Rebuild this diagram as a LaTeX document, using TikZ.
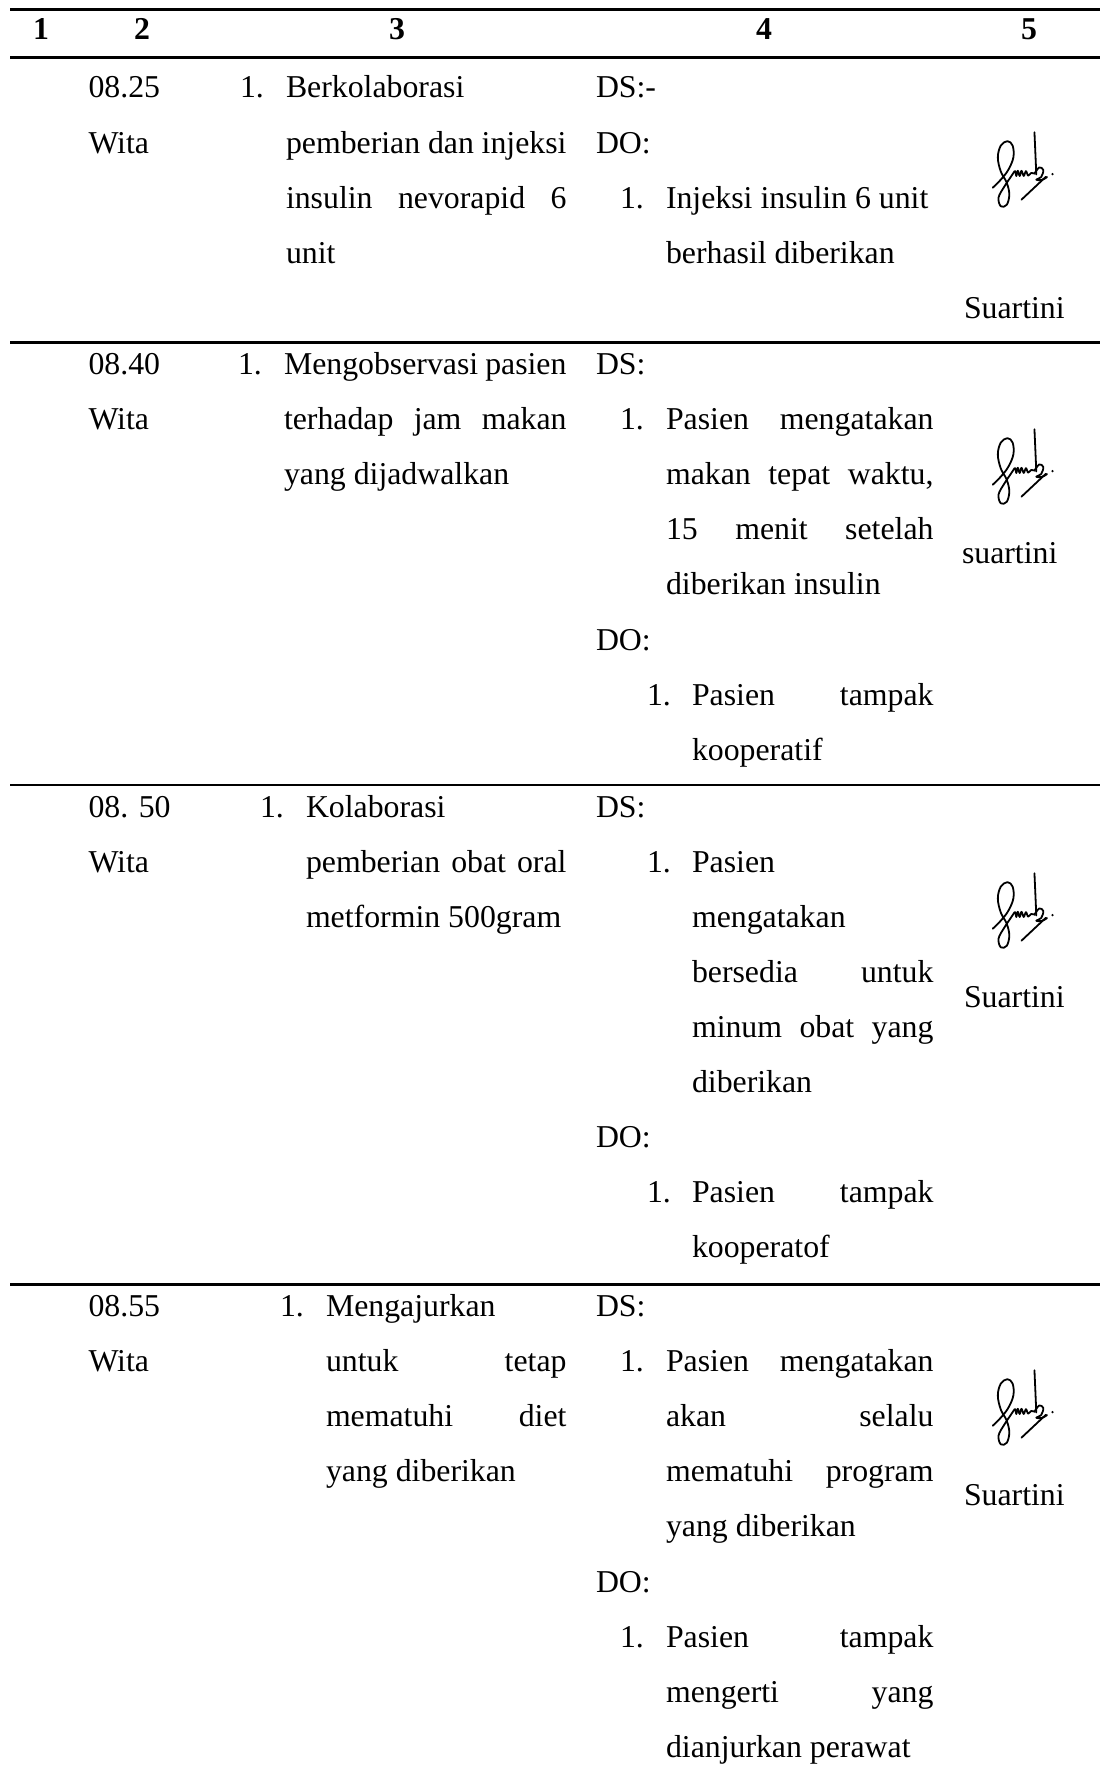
\documentclass[tikz,border=0pt]{standalone}
\usepackage{fontspec}
\setmainfont{Liberation Serif}
\newcommand\jst[2]{\makebox[#1][s]{#2}}
\begin{document}
\begin{tikzpicture}[x=1pt,y=-1pt,
  txt/.style={anchor=base west,inner sep=0pt,outer sep=0pt,font=\fontsize{31.8}{38}\selectfont},
  hdr/.style={anchor=base,inner sep=0pt,outer sep=0pt,font=\fontsize{31.8}{38}\selectfont\bfseries},
  tablerule/.style={line width=2.4pt},
  sigline/.style={line width=1.8pt,line cap=round,line join=round},
  sigmark/.pic={
    \begin{scope}[scale=0.37]
      \draw[sigline] plot[smooth,tension=0.6] coordinates {(72,140) (94,118) (114,92) (128,58) (126,26) (112,14) (94,26) (86,58) (94,96) (110,126) (117,158) (110,186) (94,190) (88,166) (104,136) (120,112) (128,100) (133,95) (136,108) (140,94) (145,108) (150,94) (156,108) (162,95) (168,107) (176,100) (186,102)};
      \draw[sigline] (185,-10) -- (190,104);
      \draw[sigline] plot[smooth,tension=0.6] coordinates {(186,100) (198,85) (209,92) (203,111) (190,118) (205,119) (219,111)};
      \draw[sigline] (150,172) -- (216,110);
      \fill (234,103) circle (3.4);
    \end{scope}
  }]
\useasboundingbox (0,0) rectangle (1100,1776);
\fill[white] (0,0) rectangle (1100,1776);

% table rules
\draw[tablerule] (10,9.5) -- (1100,9.5);
\draw[tablerule] (10,57.5) -- (1100,57.5);
\draw[tablerule] (10,342.5) -- (1100,342.5);
\draw[tablerule] (10,785) -- (1100,785);
\draw[tablerule] (10,1284.5) -- (1100,1284.5);

% header
\node[hdr] (h1) at (41,40) {1};
\node[hdr] (h2) at (142,40) {2};
\node[hdr] (h3) at (397,40) {3};
\node[hdr] (h4) at (764,40) {4};
\node[hdr] (h5) at (1029,40) {5};

% ---------- row 1 ----------
\node[txt] (a2a) at (88.5,98) {08.25};
\node[txt] (a2b) at (88.5,153.1) {Wita};
\node[txt] (a3n) at (240,98) {1.};
\node[txt] (a3a) at (286,98) {Berkolaborasi};
\node[txt] (a3b) at (286,153.1) {\jst{280.5pt}{pemberian dan injeksi}};
\node[txt] (a3c) at (286,208.2) {\jst{280.5pt}{insulin nevorapid 6}};
\node[txt] (a3d) at (286,263.3) {unit};
\node[txt] (a4a) at (596,98) {DS:-};
\node[txt] (a4b) at (596,153.1) {DO:};
\node[txt] (a4n) at (620,208.2) {1.};
\node[txt] (a4c) at (666,208.2) {Injeksi insulin 6 unit};
\node[txt] (a4d) at (666,263.3) {berhasil diberikan};
\pic (asig) at (966,136) {sigmark};
\node[txt] (a5) at (964,318.4) {Suartini};

% ---------- row 2 ----------
\node[txt] (b2a) at (88.5,374.5) {08.40};
\node[txt] (b2b) at (88.5,429.6) {Wita};
\node[txt] (b3n) at (238,374.5) {1.};
\node[txt] (b3a) at (284,374.5) {\jst{282.5pt}{Mengobservasi pasien}};
\node[txt] (b3b) at (284,429.6) {\jst{282.5pt}{terhadap jam makan}};
\node[txt] (b3c) at (284,484.7) {yang dijadwalkan};
\node[txt] (b4a) at (596,374.5) {DS:};
\node[txt] (b4n) at (620,429.6) {1.};
\node[txt] (b4b) at (666,429.6) {\jst{267.5pt}{Pasien mengatakan}};
\node[txt] (b4c) at (666,484.7) {\jst{267.5pt}{makan tepat waktu,}};
\node[txt] (b4d) at (666,539.8) {\jst{267.5pt}{15 menit setelah}};
\node[txt] (b4e) at (666,594.9) {diberikan insulin};
\node[txt] (b4f) at (596,650.0) {DO:};
\node[txt] (b4m) at (647,705.1) {1.};
\node[txt] (b4g) at (692,705.1) {\jst{241.5pt}{Pasien tampak}};
\node[txt] (b4h) at (692,760.2) {kooperatif};
\pic (bsig) at (966,433) {sigmark};
\node[txt] (b5) at (962,563) {suartini};

% ---------- row 3 ----------
\node[txt] (c2a) at (88.5,817) {08. 50};
\node[txt] (c2b) at (88.5,872.1) {Wita};
\node[txt] (c3n) at (260,817) {1.};
\node[txt] (c3a) at (306,817) {Kolaborasi};
\node[txt] (c3b) at (306,872.1) {\jst{260.5pt}{pemberian obat oral}};
\node[txt] (c3c) at (306,927.2) {metformin 500gram};
\node[txt] (c4a) at (596,817) {DS:};
\node[txt] (c4n) at (647,872.1) {1.};
\node[txt] (c4b) at (692,872.1) {Pasien};
\node[txt] (c4c) at (692,927.2) {mengatakan};
\node[txt] (c4d) at (692,982.3) {\jst{241.5pt}{bersedia untuk}};
\node[txt] (c4e) at (692,1037.4) {\jst{241.5pt}{minum obat yang}};
\node[txt] (c4f) at (692,1092.5) {diberikan};
\node[txt] (c4g) at (596,1147.6) {DO:};
\node[txt] (c4m) at (647,1202.7) {1.};
\node[txt] (c4h) at (692,1202.7) {\jst{241.5pt}{Pasien tampak}};
\node[txt] (c4i) at (692,1257.8) {kooperatof};
\pic (csig) at (966,877) {sigmark};
\node[txt] (c5) at (964,1007) {Suartini};

% ---------- row 4 ----------
\node[txt] (d2a) at (88.5,1316.5) {08.55};
\node[txt] (d2b) at (88.5,1371.6) {Wita};
\node[txt] (d3n) at (280,1316.5) {1.};
\node[txt] (d3a) at (326,1316.5) {Mengajurkan};
\node[txt] (d3b) at (326,1371.6) {\jst{240.5pt}{untuk tetap}};
\node[txt] (d3c) at (326,1426.7) {\jst{240.5pt}{mematuhi diet}};
\node[txt] (d3d) at (326,1481.8) {yang diberikan};
\node[txt] (d4a) at (596,1316.5) {DS:};
\node[txt] (d4n) at (620,1371.6) {1.};
\node[txt] (d4b) at (666,1371.6) {\jst{267.5pt}{Pasien mengatakan}};
\node[txt] (d4c) at (666,1426.7) {\jst{267.5pt}{akan selalu}};
\node[txt] (d4d) at (666,1481.8) {\jst{267.5pt}{mematuhi program}};
\node[txt] (d4e) at (666,1536.9) {yang diberikan};
\node[txt] (d4f) at (596,1592.0) {DO:};
\node[txt] (d4m) at (620,1647.1) {1.};
\node[txt] (d4g) at (666,1647.1) {\jst{267.5pt}{Pasien tampak}};
\node[txt] (d4h) at (666,1702.2) {\jst{267.5pt}{mengerti yang}};
\node[txt] (d4i) at (666,1757.3) {dianjurkan perawat};
\pic (dsig) at (966,1374) {sigmark};
\node[txt] (d5) at (964,1505) {Suartini};
\end{tikzpicture}
\end{document}
